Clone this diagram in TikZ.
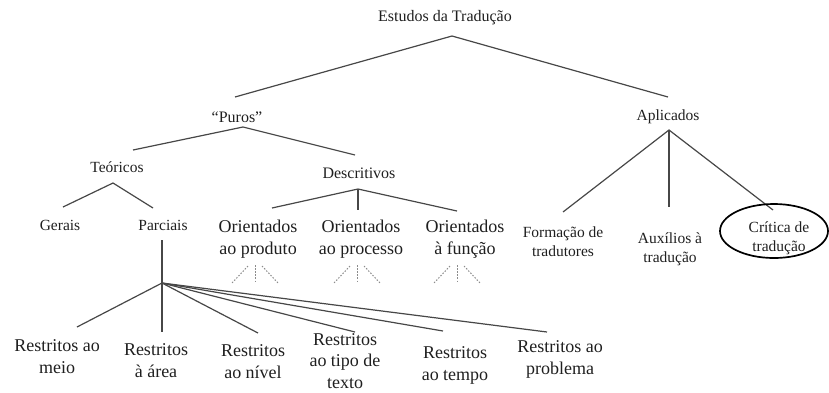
\documentclass[tikz,border=0pt]{standalone}
\usepackage{fontspec}
\setmainfont{Liberation Serif}
\begin{document}
\begin{tikzpicture}[x=1pt,y=-1pt,
  lbl/.style={inner sep=0pt, align=center, text=black!88},
  big/.style={lbl, font=\fontsize{18}{22}\selectfont},
  mid/.style={lbl, font=\fontsize{16}{19}\selectfont},
  sml/.style={lbl, font=\fontsize{15.5}{19}\selectfont},
  edge/.style={draw=black!72, line width=1.2pt},
  fanline/.style={draw=black!45, line width=1pt, dash pattern=on 1.5pt off 1.6pt},
  ring/.style={draw=black, line width=1.7pt}]
\useasboundingbox (0,0) rectangle (829,392);
% nodes
\node[mid] (estudos) at (445,18) {Estudos da Tradução};
\node[mid] (puros) at (237,117) {“Puros”};
\node[sml] (aplicados) at (668,117) {Aplicados};
\node[sml] (teoricos) at (117,167) {Teóricos};
\node[mid] (descritivos) at (359,173) {Descritivos};
\node[sml] (gerais) at (60,225) {Gerais};
\node[sml] (parciais) at (163,225) {Parciais};
\node[big] (op) at (258,239) {Orientados\\ao produto};
\node[big] (opr) at (361,239) {Orientados\\ao processo};
\node[big] (of) at (465,239) {Orientados\\à função};
\node[sml] (formacao) at (563,242) {Formação de\\tradutores};
\node[sml] (auxilios) at (670,249) {Auxílios à\\tradução};
\node[sml] (critica) at (779,238) {Crítica de\\tradução};
\node[big] (meio) at (57,357) {Restritos ao\\meio};
\node[big] (area) at (156,361) {Restritos\\à área};
\node[big] (nivel) at (253,362) {Restritos\\ao nível};
\node[big, font=\fontsize{18}{21.5}\selectfont] (tipo) at (345,361) {Restritos\\ao tipo de\\texto};
\node[big] (tempo) at (455,365) {Restritos\\ao tempo};
\node[big] (problema) at (560,359) {Restritos ao\\problema};
% connector end points
\coordinate (estudos-b) at (452,36);
\coordinate (puros-t) at (235,97);
\coordinate (aplicados-t) at (668,97);
\coordinate (puros-b) at (243,127);
\coordinate (teoricos-t) at (133,150);
\coordinate (descritivos-t) at (355,155);
\coordinate (aplicados-b) at (669,130);
\coordinate (formacao-t) at (563,212);
\coordinate (auxilios-t) at (669,207);
\coordinate (critica-t) at (773,210);
\coordinate (teoricos-b) at (113,183);
\coordinate (gerais-t) at (63,207);
\coordinate (parciais-t) at (153,208);
\coordinate (descritivos-b) at (358,189);
\coordinate (op-t) at (272,208);
\coordinate (opr-t) at (358,210);
\coordinate (of-t) at (457,211);
\coordinate (parciais-b) at (162,240);
\coordinate (hub) at (162,283);
\coordinate (meio-t) at (77,327);
\coordinate (area-t) at (162,332);
\coordinate (nivel-t) at (258,333);
\coordinate (tipo-t) at (355,332);
\coordinate (tempo-t) at (443,331);
\coordinate (problema-t) at (547,332);
% connectors
\draw[edge] (puros-t) -- (estudos-b) -- (aplicados-t);
\draw[edge] (teoricos-t) -- (puros-b) -- (descritivos-t);
\draw[edge] (formacao-t) -- (aplicados-b) -- (critica-t);
\draw[edge] (aplicados-b) -- (auxilios-t);
\draw[edge] (gerais-t) -- (teoricos-b) -- (parciais-t);
\draw[edge] (op-t) -- (descritivos-b) -- (of-t);
\draw[edge] (descritivos-b) -- (opr-t);
\draw[edge] (parciais-b) -- (hub);
\foreach \t in {meio-t,area-t,nivel-t,tipo-t,tempo-t,problema-t}
  \draw[edge] (hub) -- (\t);
% dotted fans
\foreach \x in {255,357,457}{
  \draw[fanline] (\x,265) -- (\x,283);
  \draw[fanline] (\x-7,266) -- (\x-23,283);
  \draw[fanline] (\x+7,266) -- (\x+23,283);
}
% ellipse around Crítica de tradução
\draw[ring] (774,231) ellipse [x radius=54, y radius=27];
\end{tikzpicture}
\end{document}
